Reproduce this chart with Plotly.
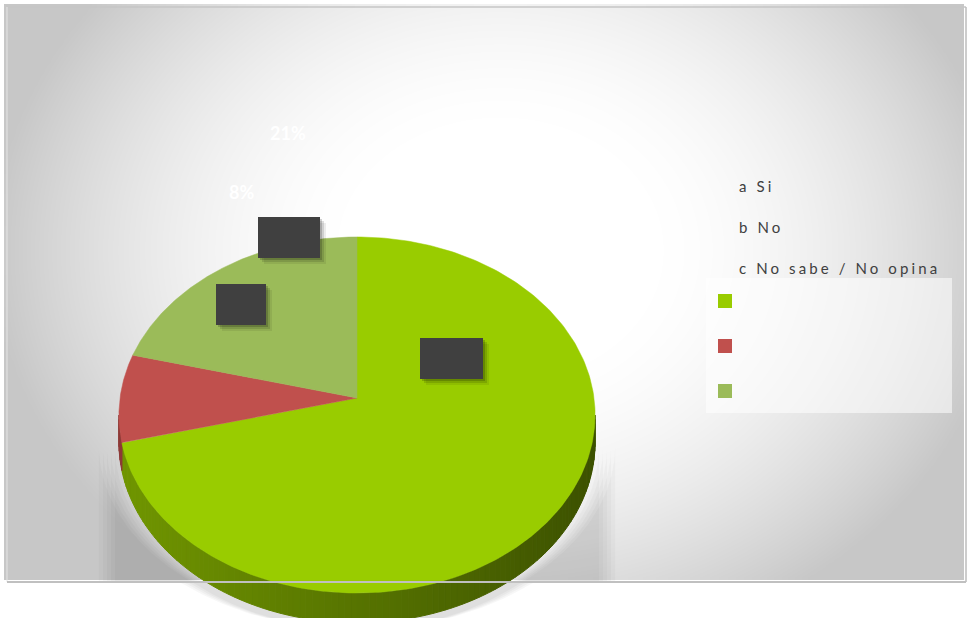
import numpy as np
import plotly.graph_objects as go

# ---- data -------------------------------------------------------------
categories = ["a Si", "b No", "c No sabe / No opina"]
percentages = [71, 8, 21]
slice_colors = ["#99cc00", "#c0504d", "#9bbb59"]

# ---- canvas (pixel-like axes) -----------------------------------------
W, H = 968, 618
FRAME = (7, 7, 966, 582)          # x0, y0, x1, y1 of the chart area

# ---- 3-D pie geometry --------------------------------------------------
CX, CY = 357.0, 398.0             # apex of the wedges
RX, RZ = 237.0, 176.4             # horizontal / depth radii
PERSP = 0.0955                    # perspective strength
DEPTH = 27.0                      # thickness of the pie


def rim(theta, drop=0.0):
    """Project a point of the pie rim (theta clockwise from 12 o'clock)."""
    X = np.sin(theta)
    Z = np.cos(theta)
    s = 1.0 / (1.0 + PERSP * Z)
    return CX + RX * X * s, CY - RZ * Z * s + drop * s


def shade(hex_color, f):
    h = hex_color.lstrip("#")
    r, g, b = (int(h[i:i + 2], 16) for i in (0, 2, 4))
    return "rgb({},{},{})".format(int(r * f), int(g * f), int(b * f))


def closed(xs, ys):
    return np.append(xs, xs[0]), np.append(ys, ys[0])


fig = go.Figure()

# ---- background radial gradient ---------------------------------------
gx = np.arange(FRAME[0], FRAME[2] + 1, 6.0)
gy = np.arange(FRAME[1], FRAME[3] + 1, 6.0)
GX, GY = np.meshgrid(gx, gy)
r = np.sqrt(((GX - 500) / 540.0) ** 2 + ((GY - 250) / 440.0) ** 2)
t = np.clip((r - 0.26) / 0.68, 0, 1)
bg = 255 - 56 * t ** 1.7
fig.add_trace(go.Heatmap(
    x=gx, y=gy, z=bg, zmin=198, zmax=255, zsmooth="best",
    colorscale=[[0, "rgb(198,198,198)"], [1, "rgb(255,255,255)"]],
    showscale=False, hoverinfo="skip"))

# ---- slice angles --------------------------------------------------------
bounds = np.concatenate([[0], np.cumsum(percentages)]) / 100.0 * 2 * np.pi

# silhouette of the cylinder (left / right extremes of the rim)
th_all = np.linspace(0, 2 * np.pi, 7201)
rx_all, _ = rim(th_all)
th_right = th_all[np.argmax(rx_all)]
th_left = th_all[np.argmin(rx_all)]
x_min, x_max = rx_all.min(), rx_all.max()
front = np.linspace(th_right, th_left, 200)

# ---- shadow inside the chart area (tall, clipped at the frame) ------------
SH_DROP, SH_OFF = 260.0, 30.0
for e in [4, 8, 12, 16, 20]:
    k = 1.0 + e / RX
    tx, ty = rim(front)
    bx, by = rim(front[::-1], SH_DROP)
    xs = CX + (np.concatenate([tx, bx]) - CX) * k
    ys = np.minimum(np.concatenate([ty, by]) + SH_OFF, FRAME[3] - 1)
    xs, ys = closed(xs, ys)
    fig.add_trace(go.Scatter(
        x=xs, y=ys, mode="lines", fill="toself",
        fillcolor="rgba(0,0,0,0.022)", line=dict(width=0),
        hoverinfo="skip", showlegend=False))

# ---- shadow of the pie outside the chart area ------------------------------
for e in [6, 12, 18, 24]:
    k = 1.0 + e / RX
    tx, ty = rim(front, DEPTH * 0.3)
    bx, by = rim(front[::-1], DEPTH + 6)
    xs = CX + (np.concatenate([tx, bx]) - CX) * k
    ys = np.maximum(np.concatenate([ty, by]), FRAME[3] + 1)
    xs, ys = closed(xs, ys)
    fig.add_trace(go.Scatter(
        x=xs, y=ys, mode="lines", fill="toself",
        fillcolor="rgba(0,0,0,0.03)", line=dict(width=0),
        hoverinfo="skip", showlegend=False))

# ---- pie side (front wall), shaded from left to right --------------------
edges = np.linspace(th_right, th_left, 121)
inner = [b for b in bounds if th_right < b < th_left]
edges = np.sort(np.concatenate([edges, inner]))
for a0, a1 in zip(edges[:-1], edges[1:]):
    mid = 0.5 * (a0 + a1)
    idx = int(np.searchsorted(bounds, mid, side="right") - 1)
    idx = min(max(idx, 0), len(percentages) - 1)
    seg = np.linspace(a0, a1, 5)
    tx, ty = rim(seg)
    bx, by = rim(seg[::-1], DEPTH)
    xm = rim(mid)[0]
    f = 0.74 - 0.34 * (xm - x_min) / (x_max - x_min)
    col = shade(slice_colors[idx], f)
    xs, ys = closed(np.concatenate([tx, bx]), np.concatenate([ty, by]))
    fig.add_trace(go.Scatter(
        x=xs, y=ys, mode="lines", fill="toself", fillcolor=col,
        line=dict(width=1, color=col), hoverinfo="skip", showlegend=False))

# ---- pie top (wedges) ----------------------------------------------------
for i, (name, pct) in enumerate(zip(categories, percentages)):
    th = np.linspace(bounds[i], bounds[i + 1], 240)
    ax, ay = rim(th)
    xs = np.concatenate([[CX], ax, [CX]])
    ys = np.concatenate([[CY], ay, [CY]])
    fig.add_trace(go.Scatter(
        x=xs, y=ys, mode="lines", fill="toself",
        fillcolor=slice_colors[i], line=dict(width=0.5, color=slice_colors[i]),
        name=name, text="{}%".format(pct), hoverinfo="name+text",
        showlegend=False))

shapes = []
annotations = []

# ---- data label boxes (dark, with a soft drop shadow) --------------------
label_boxes = [(258, 217, 320, 258), (216, 284, 266, 325), (420, 338, 483, 379)]
for (x0, y0, x1, y1) in label_boxes:
    for off, a in [(6, 0.07), (4, 0.12), (2, 0.18)]:
        shapes.append(dict(type="rect", xref="x", yref="y",
                           x0=x0 + off, y0=y0 + off, x1=x1 + off, y1=y1 + off,
                           fillcolor="rgba(0,0,0,{})".format(a),
                           line=dict(width=0), layer="above"))
    shapes.append(dict(type="rect", xref="x", yref="y",
                       x0=x0, y0=y0, x1=x1, y1=y1, fillcolor="#404040",
                       line=dict(width=0), layer="above"))

# ---- percentage labels (white) -----------------------------------------
label_pos = {2: (288, 133), 1: (241, 192)}
for idx, (lx, ly) in label_pos.items():
    annotations.append(dict(
        x=lx, y=ly, xref="x", yref="y", showarrow=False,
        text="<b>{}%</b>".format(percentages[idx]),
        font=dict(family="Lato, sans-serif", size=18, color="#ffffff"),
        xanchor="center", yanchor="middle"))

# ---- legend ----------------------------------------------------------------
shapes.append(dict(type="rect", xref="x", yref="y", x0=706, y0=278,
                   x1=952, y1=413, fillcolor="rgba(255,255,255,0.55)",
                   line=dict(width=0), layer="above"))
for i, col in enumerate(slice_colors):
    sy = 294 + 45 * i
    shapes.append(dict(type="rect", xref="x", yref="y", x0=718, y0=sy,
                       x1=732, y1=sy + 14, fillcolor=col,
                       line=dict(width=0), layer="above"))
for i, name in enumerate(categories):
    annotations.append(dict(
        x=737, y=186 + 41 * i, xref="x", yref="y", showarrow=False,
        text='<span style="letter-spacing:3.1px">{}</span>'.format(name),
        font=dict(family="Lato, sans-serif", size=15, color="#404040"),
        xanchor="left", yanchor="middle"))

# ---- chart frame ---------------------------------------------------------
fx0, fy0, fx1, fy1 = FRAME
shapes += [
    dict(type="line", xref="x", yref="y", x0=fx0, y0=fy0, x1=fx1, y1=fy0,
         line=dict(color="#c6c6c6", width=1.5), layer="above"),
    dict(type="line", xref="x", yref="y", x0=fx0, y0=fy0, x1=fx0, y1=fy1,
         line=dict(color="#e6e6e6", width=1), layer="above"),
    dict(type="line", xref="x", yref="y", x0=fx1, y0=fy0, x1=fx1, y1=fy1,
         line=dict(color="#bdbdbd", width=1.5), layer="above"),
    dict(type="line", xref="x", yref="y", x0=fx0, y0=fy1, x1=fx1, y1=fy1,
         line=dict(color="#c0c0c0", width=2), layer="above"),
]

fig.update_layout(
    width=W, height=H,
    margin=dict(l=0, r=0, t=0, b=0),
    paper_bgcolor="#ffffff", plot_bgcolor="#ffffff",
    xaxis=dict(range=[0, W], visible=False, fixedrange=True),
    yaxis=dict(range=[H, 0], visible=False, fixedrange=True),
    showlegend=False,
    shapes=shapes,
    annotations=annotations,
)

fig.write_html("out.html")
